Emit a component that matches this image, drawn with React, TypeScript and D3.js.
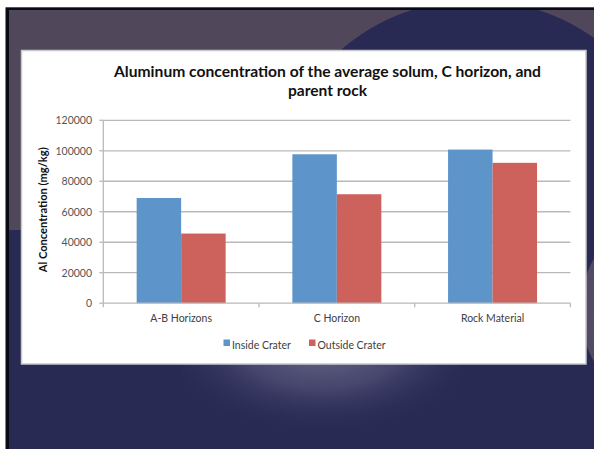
import React from "react";
import * as d3 from "d3";

// Aluminum concentration (mg/kg) by horizon, inside vs. outside the crater
const categories = ["A-B Horizons", "C Horizon", "Rock Material"];
const seriesNames = ["Inside Crater", "Outside Crater"];
const insideCrater = [69000, 97700, 100800];
const outsideCrater = [45700, 71500, 92100];
const yTicks = [0, 20000, 40000, 60000, 80000, 100000, 120000];
const titleLines = [
  "Aluminum concentration of the average solum, C horizon, and",
  "parent rock",
];
const yAxisTitle = "Al Concentration (mg/kg)";

const W = 594;
const H = 449;
const FONT = "Lato, 'Open Sans', sans-serif";
const colors = ["#5d94ca", "#cd625d"];
const NAVY = "#282a54";
const PURPLE = "#50475b";

export default function App() {
  const values = [insideCrater, outsideCrater];

  const plot = { left: 103.3, right: 570.4, top: 120.3, bottom: 303.2 };

  const x0 = d3
    .scaleBand<string>()
    .domain(categories)
    .range([plot.left, plot.right])
    .padding(0);

  const x1 = d3
    .scaleBand<string>()
    .domain(seriesNames)
    .range([0, x0.bandwidth()])
    .paddingInner(0)
    .paddingOuter(0.75);

  const y = d3
    .scaleLinear()
    .domain([0, 120000])
    .range([plot.bottom, plot.top]);

  const boundaries = [...categories.map((c) => x0(c) as number), plot.right];

  return (
    <svg
      width={W}
      height={H}
      viewBox={`0 0 ${W} ${H}`}
      style={{ position: "absolute", left: 0, top: 0, display: "block" }}
    >
      <defs>
        <radialGradient id="glow" cx="0.5" cy="0.3" r="0.6">
          <stop offset="0" stopColor="#6a6989" />
          <stop offset="0.5" stopColor="#46466e" />
          <stop offset="1" stopColor={NAVY} stopOpacity="0" />
        </radialGradient>
        <radialGradient id="sideGlow" cx="0.3" cy="0.5" r="0.7">
          <stop offset="0" stopColor="#5a506a" />
          <stop offset="1" stopColor="#4a4460" />
        </radialGradient>
        <clipPath id="slide">
          <rect x={9} y={10} width={W - 9} height={H - 10} />
        </clipPath>
      </defs>

      {/* slide frame */}
      <rect x={0} y={0} width={W} height={H} fill="#ffffff" />
      <rect x={5.5} y={7.3} width={W - 5.5} height={H - 7.3} fill="#0a0a14" />

      {/* slide background */}
      <g clipPath="url(#slide)">
        <rect x={9} y={10} width={W} height={H} fill={NAVY} />
        <rect x={9} y={10} width={W} height={45} fill={PURPLE} />
        <rect x={9} y={10} width={14} height={220} fill={PURPLE} />
        <circle cx={475} cy={205} r={205} fill={NAVY} />
        <ellipse cx={700} cy={310} rx={120} ry={110} fill="url(#sideGlow)" />
        <ellipse cx={322} cy={372} rx={140} ry={80} fill="url(#glow)" />
      </g>

      {/* chart area */}
      <rect
        x={21.5}
        y={50.5}
        width={564.5}
        height={313.5}
        fill="#ffffff"
        stroke="#c9c9cc"
        strokeWidth={1.5}
      />

      {/* title */}
      {titleLines.map((t, i) => (
        <text
          key={t}
          x={327.5}
          y={76.5 + i * 19.5}
          textAnchor="middle"
          fontFamily={FONT}
          fontWeight={700}
          fontSize={15}
          fill="#111111"
          textLength={i === 0 ? 427 : 79}
          lengthAdjust="spacingAndGlyphs"
        >
          {t}
        </text>
      ))}

      {/* gridlines */}
      {yTicks.slice(1).map((t) => (
        <line
          key={t}
          x1={plot.left}
          x2={plot.right}
          y1={y(t)}
          y2={y(t)}
          stroke="#b9b9b9"
          strokeWidth={1.3}
        />
      ))}

      {/* y axis */}
      <line
        x1={plot.left}
        x2={plot.left}
        y1={plot.top}
        y2={plot.bottom}
        stroke="#b9b9b9"
        strokeWidth={1.3}
      />
      {yTicks.map((t) => (
        <g key={t}>
          <line
            x1={plot.left - 4}
            x2={plot.left}
            y1={y(t)}
            y2={y(t)}
            stroke="#b9b9b9"
            strokeWidth={1.3}
          />
          <text
            x={92}
            y={y(t) + 3.8}
            textAnchor="end"
            fontFamily={FONT}
            fontSize={10.5}
            fill="#555555"
          >
            {t}
          </text>
        </g>
      ))}

      {/* bars */}
      {categories.map((c, ci) =>
        seriesNames.map((s, si) => {
          const v = values[si][ci];
          const bx = (x0(c) as number) + (x1(s) as number);
          return (
            <rect
              key={c + s}
              x={bx}
              y={y(v)}
              width={x1.bandwidth()}
              height={y(0) - y(v)}
              fill={colors[si]}
            />
          );
        })
      )}

      {/* x axis */}
      <line
        x1={plot.left}
        x2={plot.right}
        y1={plot.bottom}
        y2={plot.bottom}
        stroke="#b9b9b9"
        strokeWidth={1.3}
      />
      {boundaries.map((b, i) => (
        <line
          key={i}
          x1={b}
          x2={b}
          y1={plot.bottom}
          y2={plot.bottom + 4}
          stroke="#b9b9b9"
          strokeWidth={1.3}
        />
      ))}
      {categories.map((c) => (
        <text
          key={c}
          x={(x0(c) as number) + x0.bandwidth() / 2}
          y={321.5}
          textAnchor="middle"
          fontFamily={FONT}
          fontSize={10.5}
          fill="#404040"
        >
          {c}
        </text>
      ))}

      {/* y axis title */}
      <text
        transform={`translate(47, ${(plot.top + plot.bottom) / 2 - 2}) rotate(-90)`}
        textAnchor="middle"
        fontFamily={FONT}
        fontWeight={700}
        fontSize={11}
        fill="#111111"
        textLength={125}
        lengthAdjust="spacingAndGlyphs"
      >
        {yAxisTitle}
      </text>

      {/* legend */}
      {seriesNames.map((s, i) => {
        const lx = i === 0 ? 223.5 : 309;
        return (
          <g key={s}>
            <rect x={lx} y={339.5} width={6.5} height={6.5} fill={colors[i]} />
            <text
              x={lx + 8.5}
              y={348.5}
              fontFamily={FONT}
              fontSize={10.5}
              fill="#404040"
            >
              {s}
            </text>
          </g>
        );
      })}
    </svg>
  );
}
